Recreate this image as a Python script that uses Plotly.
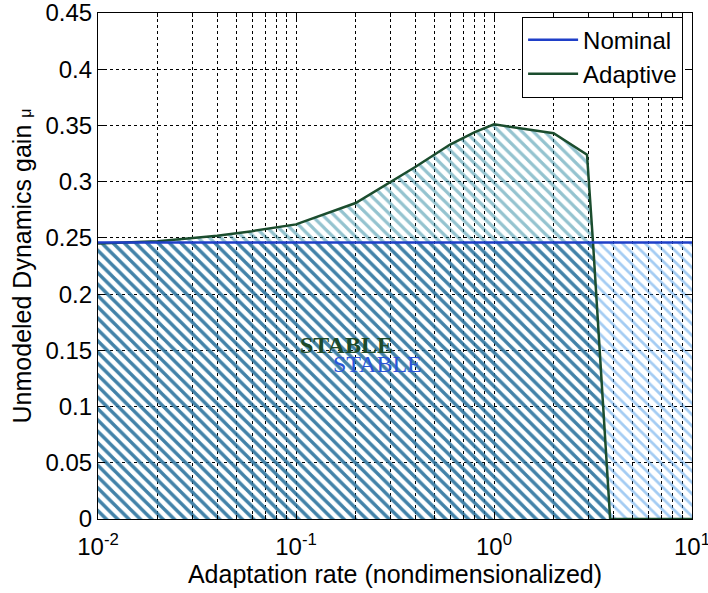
import numpy as np
import plotly.graph_objects as go

# ---- data ----
nominal_x = [0.01, 10.0]
nominal_y = [0.246, 0.246]

adaptive_x = [0.01, 0.02, 0.04, 0.06, 0.1, 0.2, 0.4, 0.6, 0.8, 1.0, 2.0, 2.95, 3.16, 3.86, 10.0]
adaptive_y = [0.245, 0.247, 0.252, 0.256, 0.262, 0.281, 0.313, 0.333, 0.344, 0.351, 0.343, 0.324, 0.247, 0.0, 0.0]

y_ticks = [0, 0.05, 0.1, 0.15, 0.2, 0.25, 0.3, 0.35, 0.4, 0.45]
y_tick_text = ["0", "0.05", "0.1", "0.15", "0.2", "0.25", "0.3", "0.35", "0.4", "0.45"]
x_ticks = [0.01, 0.1, 1, 10]
x_tick_text = ["10<sup>-2</sup>", "10<sup>-1</sup>", "10<sup>0</sup>", "10<sup>1</sup>"]
x_minor = [m * 10.0 ** k for k in (-2, -1, 0) for m in range(2, 10)]

labels = [
    dict(text="STABLE", x=0.179, y=0.155, color="#1e4a2a", bold=True, size=24),
    dict(text="STABLE", x=0.259, y=0.1376, color="#2a55d8", bold=False, size=24),
]

# region where both stability regions overlap (min of the two boundaries)
lx_all = np.log10(np.array(sorted(set(adaptive_x) | set(nominal_x))))
ada_i = np.interp(lx_all, np.log10(adaptive_x), adaptive_y)
nom_i = np.interp(lx_all, np.log10(nominal_x), nominal_y)
overlap_x = list(10 ** lx_all)
overlap_y = list(np.minimum(ada_i, nom_i))

FONT = "Liberation Sans, Arial, sans-serif"
NOM_LINE = "#1f3fc8"
NOM_HATCH = "#4a9ae8"
ADA_LINE = "#1b4d2e"
ADA_HATCH = "#2a88a0"
BOTH_HATCH = "#1d5a88"

fig = go.Figure()


def hatch(xs, ys, color, solidity):
    fig.add_trace(go.Scatter(
        x=xs, y=ys, mode="lines", line=dict(width=0, color=color),
        fill="tozeroy", fillcolor="rgba(0,0,0,0)",
        fillpattern=dict(shape="\\", fgcolor=color, bgcolor="rgba(0,0,0,0)", size=8, solidity=solidity),
        showlegend=False, hoverinfo="skip"))


hatch(nominal_x, nominal_y, NOM_HATCH, 0.35)
hatch(adaptive_x, adaptive_y, ADA_HATCH, 0.4)
hatch(overlap_x, overlap_y, BOTH_HATCH, 0.42)

# boundary lines
fig.add_trace(go.Scatter(
    x=adaptive_x, y=adaptive_y, mode="lines", name="Adaptive",
    line=dict(color=ADA_LINE, width=2.5), legendrank=2))
fig.add_trace(go.Scatter(
    x=nominal_x, y=nominal_y, mode="lines", name="Nominal",
    line=dict(color=NOM_LINE, width=2.5), legendrank=1))

for lb in labels:
    fig.add_annotation(
        x=np.log10(lb["x"]), y=lb["y"], xref="x", yref="y", showarrow=False,
        text=("<b>%s</b>" % lb["text"]) if lb["bold"] else lb["text"],
        font=dict(family="Liberation Serif, Times New Roman, serif", size=lb["size"], color=lb["color"]))

fig.update_xaxes(
    type="log", range=[-2, 1], tickvals=x_ticks, ticktext=x_tick_text,
    showline=True, linecolor="black", linewidth=1.2, mirror="ticks",
    ticks="inside", ticklen=7, tickcolor="black", ticklabeloverflow="allow",
    ticklabelstandoff=6, automargin=False,
    showgrid=True, zeroline=False, gridcolor="black", griddash="3px,3px", gridwidth=1,
    minor=dict(tickvals=x_minor, ticks="inside", ticklen=4, tickcolor="black",
               showgrid=True, gridcolor="black", griddash="3px,3px", gridwidth=1),
    tickfont=dict(family=FONT, size=24, color="black"),
    title=dict(text="Adaptation rate (nondimensionalized)", font=dict(family=FONT, size=25, color="black"), standoff=6),
)
fig.update_yaxes(
    range=[0, 0.45], tickvals=y_ticks, ticktext=y_tick_text,
    showline=True, linecolor="black", linewidth=1.2, mirror="ticks",
    ticks="inside", ticklen=7, tickcolor="black", ticklabeloverflow="allow",
    automargin=False,
    showgrid=True, zeroline=False, gridcolor="black", griddash="3px,3px", gridwidth=1,
    tickfont=dict(family=FONT, size=24, color="black"),
    title=dict(text="Unmodeled Dynamics gain <span style='font-size:16px'>μ</span>",
               font=dict(family=FONT, size=25, color="black"), standoff=6),
)

fig.update_layout(
    width=708, height=593,
    margin=dict(l=98, r=16, t=13, b=74, autoexpand=False),
    paper_bgcolor="white", plot_bgcolor="white",
    font=dict(family=FONT, color="black"),
    legend=dict(x=0.985, y=0.993, xanchor="right", yanchor="top",
                bgcolor="white", bordercolor="black", borderwidth=1,
                font=dict(family=FONT, size=24, color="black"),
                tracegroupgap=0, itemwidth=50),
)

fig.write_html("out.html")
